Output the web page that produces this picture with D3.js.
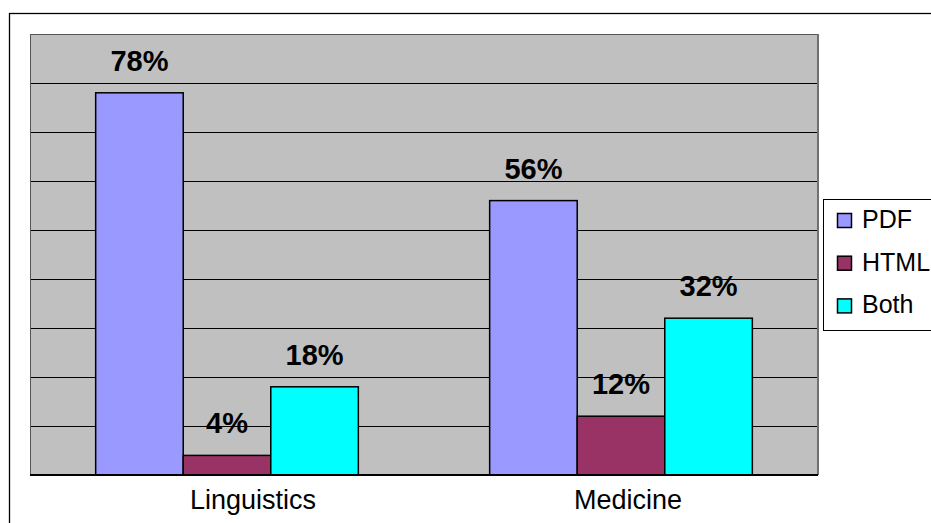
<!DOCTYPE html>
<html>
<head>
<meta charset="utf-8">
<script src="https://cdn.jsdelivr.net/npm/d3@7"></script>
<style>
  html, body { margin: 0; padding: 0; background: #fff; }
  svg { display: block; font-family: "Liberation Sans", Arial, sans-serif; }
</style>
</head>
<body>
<svg id="chart" width="931" height="523"></svg>
<script>
const categories = ["Linguistics", "Medicine"];
const seriesNames = ["PDF", "HTML", "Both"];
const pdfValues = [78, 56];
const htmlValues = [4, 12];
const bothValues = [18, 32];
const seriesColors = ["#9999FF", "#993366", "#00FFFF"];
const gridTicks = [10, 20, 30, 40, 50, 60, 70, 80];
const yMax = 90;

const seriesValues = [pdfValues, htmlValues, bothValues];
const data = [];
categories.forEach((c, ci) => {
  seriesNames.forEach((s, si) => data.push({ cat: c, series: s, value: seriesValues[si][ci], color: seriesColors[si] }));
});

const svg = d3.select("#chart");
const plot = { left: 30, top: 34, right: 818, bottom: 475 };

// outer chart border
svg.append("rect").attr("x", 9.5).attr("y", 13.5).attr("width", 940).attr("height", 540)
  .attr("fill", "none").attr("stroke", "#000").attr("stroke-width", 1.3);

const x = d3.scaleBand().domain(categories).range([plot.left, plot.right]).padding(0);
const xs = d3.scaleBand().domain(seriesNames).range([0, x.bandwidth()]).paddingInner(0).paddingOuter(0.75);
const y = d3.scaleLinear().domain([0, yMax]).range([plot.bottom, plot.top]);

// plot background
svg.append("rect").attr("x", plot.left).attr("y", plot.top)
  .attr("width", plot.right - plot.left).attr("height", plot.bottom - plot.top)
  .attr("fill", "#C0C0C0");

// gridlines
svg.append("g").selectAll("line").data(gridTicks).join("line")
  .attr("x1", plot.left).attr("x2", plot.right)
  .attr("y1", d => Math.round(y(d)) + 0.5).attr("y2", d => Math.round(y(d)) + 0.5)
  .attr("stroke", "#000").attr("stroke-width", 1);

// plot border: top/left gray, right dark gray
svg.append("line").attr("x1", plot.left).attr("x2", plot.right).attr("y1", plot.top + 0.5).attr("y2", plot.top + 0.5)
  .attr("stroke", "#555").attr("stroke-width", 1);
svg.append("line").attr("x1", plot.left + 0.5).attr("x2", plot.left + 0.5).attr("y1", plot.top).attr("y2", plot.bottom)
  .attr("stroke", "#555").attr("stroke-width", 1);
svg.append("line").attr("x1", plot.right).attr("x2", plot.right).attr("y1", plot.top).attr("y2", plot.bottom)
  .attr("stroke", "#707070").attr("stroke-width", 2);

// bars
svg.append("g").selectAll("rect").data(data).join("rect")
  .attr("x", d => x(d.cat) + xs(d.series))
  .attr("y", d => y(d.value))
  .attr("width", xs.bandwidth())
  .attr("height", d => y(0) - y(d.value))
  .attr("fill", d => d.color)
  .attr("stroke", "#000").attr("stroke-width", 1.5);

// axis line
svg.append("line").attr("x1", plot.left).attr("x2", plot.right).attr("y1", plot.bottom).attr("y2", plot.bottom)
  .attr("stroke", "#000").attr("stroke-width", 2);

// value labels
svg.append("g").selectAll("text").data(data).join("text")
  .attr("x", d => x(d.cat) + xs(d.series) + xs.bandwidth() / 2)
  .attr("y", d => y(d.value) - 22)
  .attr("text-anchor", "middle")
  .attr("font-weight", "bold").attr("font-size", 29)
  .attr("fill", "#000")
  .text(d => d.value + "%");

// category axis labels (reference places them slightly right of centre)
const xAxis = d3.axisBottom(x).tickSize(0).tickPadding(0);
const gx = svg.append("g").attr("transform", `translate(0,${plot.bottom})`).call(xAxis);
gx.select(".domain").remove();
gx.selectAll("text")
  .attr("dy", null).attr("y", 34)
  .attr("dx", (d, i) => (i === 0 ? 26 : 7))
  .attr("font-size", 27).attr("font-family", "Liberation Sans, Arial, sans-serif")
  .attr("fill", "#000");

// legend
const legend = svg.append("g");
legend.append("rect").attr("x", 823.5).attr("y", 199.5).attr("width", 130).attr("height", 131)
  .attr("fill", "#fff").attr("stroke", "#000").attr("stroke-width", 1);
const items = legend.selectAll("g.item").data(seriesNames).join("g").attr("class", "item")
  .attr("transform", (d, i) => `translate(0,${i * 42.7})`);
items.append("rect").attr("x", 837.5).attr("y", 213.5).attr("width", 14).attr("height", 14)
  .attr("fill", (d, i) => seriesColors[i]).attr("stroke", "#000").attr("stroke-width", 1.5);
items.append("text").attr("x", 862).attr("y", 228)
  .attr("font-size", 25).attr("fill", "#000").text(d => d);
</script>
</body>
</html>
